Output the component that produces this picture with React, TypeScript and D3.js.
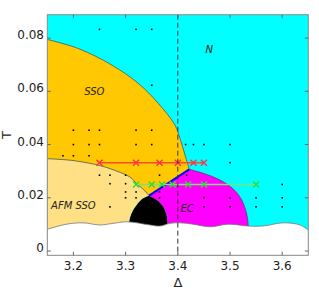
import * as d3 from 'd3';

type Pt = [number, number];

// phase boundaries, as [Delta, T]
const ssoBoundary: Pt[] = [
  [3.15, 0.0795], [3.2094, 0.0761], [3.2734, 0.0699], [3.3243, 0.063],
  [3.3626, 0.0555], [3.3947, 0.0473], [3.4042, 0.0423], [3.4138, 0.0361],
  [3.422, 0.0307],
];
const afmBoundary: Pt[] = [
  [3.15, 0.0347], [3.1992, 0.034], [3.251, 0.0321], [3.2835, 0.03],
  [3.3084, 0.0278], [3.3218, 0.0252], [3.3333, 0.0233], [3.345, 0.0208],
];
const blackLeft: Pt[] = [
  [3.345, 0.0208], [3.3339, 0.0198], [3.3213, 0.0173], [3.3117, 0.0142],
  [3.3071, 0.011], [3.306, 0.006],
];
const blackRight: Pt[] = [
  [3.345, 0.0208], [3.3596, 0.0192], [3.3711, 0.0169], [3.3774, 0.0142],
  [3.3799, 0.011], [3.381, 0.006],
];
const ecBoundary: Pt[] = [
  [3.422, 0.0307], [3.4489, 0.0292], [3.4808, 0.0267], [3.5063, 0.0233],
  [3.5224, 0.0192], [3.532, 0.0139], [3.535, 0.0094], [3.535, 0.006],
];
const blueLine: Pt[] = [[3.345, 0.0208], [3.422, 0.0307]];
const wave: Pt[] = [
  [3.15, 0.0082], [3.1872, 0.0101], [3.2184, 0.0106], [3.251, 0.0098],
  [3.2759, 0.0104], [3.3027, 0.011], [3.3467, 0.0098], [3.3659, 0.0094],
  [3.3851, 0.0104], [3.4042, 0.0106], [3.4291, 0.0101], [3.4617, 0.0091],
  [3.4962, 0.0101], [3.5345, 0.0094], [3.5632, 0.0094], [3.6015, 0.0106],
  [3.6341, 0.0098], [3.65, 0.0079],
];

// simulation points
const dots: Pt[] = [
  [3.25, 0.0833], [3.32, 0.0833], [3.35, 0.0833],
  [3.35, 0.0623],
  [3.2, 0.0454], [3.23, 0.0454], [3.25, 0.0454], [3.32, 0.0454], [3.35, 0.0454],
  [3.2, 0.04], [3.23, 0.04], [3.25, 0.04], [3.32, 0.04], [3.35, 0.04],
  [3.415, 0.04], [3.43, 0.04], [3.45, 0.04], [3.5, 0.04],
  [3.18, 0.0358], [3.2, 0.0358], [3.23, 0.0358],
  [3.5, 0.0332],
  [3.25, 0.0285], [3.27, 0.0285], [3.3, 0.0285], [3.365, 0.0285], [3.417, 0.0285],
  [3.27, 0.0253], [3.3, 0.0253], [3.6, 0.025],
  [3.3, 0.0222], [3.32, 0.0222], [3.365, 0.0222],
  [3.3, 0.02], [3.32, 0.02], [3.365, 0.02], [3.45, 0.02], [3.5, 0.02], [3.55, 0.02], [3.6, 0.02],
  [3.27, 0.0166], [3.45, 0.0166], [3.5, 0.0166], [3.55, 0.0166], [3.6, 0.0166],
];
const redDelta = [3.25, 3.32, 3.365, 3.4, 3.43, 3.45];
const redT = 0.0332;
const greenDelta = [3.32, 3.35, 3.37, 3.39, 3.42, 3.45, 3.55];
const greenT = 0.025;

const xTicks = [3.2, 3.3, 3.4, 3.5, 3.6];
const yTicks = [0, 0.02, 0.04, 0.06, 0.08];
const yTickLabels = ['0', '0.02', '0.04', '0.06', '0.08'];
const criticalDelta = 3.4;

const W = 319;
const H = 291;
const L = 47.3, R = 308.3, T = 14.7, B = 255.3;

export default function App() {
  const x = d3.scaleLinear().domain([3.15, 3.65]).range([L, R]);
  const y = d3.scaleLinear().domain([-0.0016, 0.0888]).range([B, T]);
  const bottom = -0.0016;

  const smooth = d3.line<Pt>().x((d) => x(d[0])).y((d) => y(d[1])).curve(d3.curveCatmullRom);
  const straight = d3.line<Pt>().x((d) => x(d[0])).y((d) => y(d[1]));

  // region outlines
  const ssoPath =
    smooth(ssoBoundary) + 'L' + straight(blueLine.slice().reverse())!.slice(1) +
    'L' + smooth(afmBoundary.slice().reverse())!.slice(1) + 'Z';
  const afmPath =
    smooth(afmBoundary) + 'L' + smooth(blackLeft)!.slice(1) +
    `L${x(3.306)},${y(bottom)}L${x(3.15)},${y(bottom)}Z`;
  const blackPath =
    smooth(blackLeft) + 'L' + smooth(blackRight.slice().reverse())!.slice(1) + 'Z';
  const ecPath =
    smooth(ecBoundary) + `L${x(3.381)},${y(0.006)}` +
    'L' + smooth(blackRight.slice().reverse())!.slice(1) +
    'L' + straight(blueLine)!.slice(1) + 'Z';
  const wavePath =
    smooth(wave) + `L${x(3.65)},${y(bottom)}L${x(3.15)},${y(bottom)}Z`;

  const cross = (cx: number, cy: number, s = 3) =>
    `M${cx - s},${cy - s}L${cx + s},${cy + s}M${cx - s},${cy + s}L${cx + s},${cy - s}`;

  const font = '"DejaVu Sans", sans-serif';

  return (
    <svg
      width={W}
      height={H}
      style={{ position: 'absolute', left: 0, top: 0, background: '#fff' }}
      fontFamily={font}
    >
      <defs>
        <clipPath id="plot">
          <rect x={L} y={T} width={R - L} height={B - T} />
        </clipPath>
      </defs>
      <g clipPath="url(#plot)">
        <rect x={L} y={T} width={R - L} height={B - T} fill="#00ffff" />
        <path d={ssoPath} fill="#ffc800" />
        <path d={afmPath} fill="#ffe084" />
        <path d={ecPath} fill="#ff00ff" />
        <path d={blackPath} fill="#000" />
        <path d={smooth(ssoBoundary)!} fill="none" stroke="#444" strokeWidth={0.7} />
        <path d={smooth(afmBoundary)!} fill="none" stroke="#444" strokeWidth={0.7} />
        <path d={smooth(ecBoundary)!} fill="none" stroke="#444" strokeWidth={0.7} />
        <path d={straight(blueLine)!} fill="none" stroke="#0000ff" strokeWidth={2} />
        <path d={wavePath} fill="#fff" />
        <path d={smooth(wave)!} fill="none" stroke="#777" strokeWidth={0.8} />

        {dots.map((d, i) => (
          <rect key={i} x={x(d[0]) - 0.8} y={y(d[1]) - 0.8} width={1.6} height={1.6} fill="#000" />
        ))}

        <line
          x1={x(redDelta[0])} x2={x(redDelta[redDelta.length - 1])}
          y1={y(redT)} y2={y(redT)} stroke="#ff4a2a" strokeWidth={1.5}
        />
        {redDelta.map((d, i) => (
          <path key={i} d={cross(x(d), y(redT))} stroke="#ff3050" strokeWidth={1.4} fill="none" />
        ))}
        <line
          x1={x(greenDelta[0])} x2={x(greenDelta[greenDelta.length - 1])}
          y1={y(greenT)} y2={y(greenT)} stroke="#7de07d" strokeWidth={1.5}
        />
        {greenDelta.map((d, i) => (
          <path key={i} d={cross(x(d), y(greenT))} stroke="#2edc2e" strokeWidth={1.4} fill="none" />
        ))}

        <line
          x1={x(criticalDelta)} x2={x(criticalDelta)} y1={T} y2={B}
          stroke="#333" strokeWidth={1} strokeDasharray="5,3"
        />
      </g>

      <text x={x(3.24)} y={y(0.0598)} fontSize={10} fontStyle="italic" textAnchor="middle" dominantBaseline="central" fill="#222">SSO</text>
      <text x={x(3.46)} y={y(0.0758)} fontSize={10} fontStyle="italic" textAnchor="middle" dominantBaseline="central" fill="#222">N</text>
      <text x={x(3.2)} y={y(0.0172)} fontSize={10} fontStyle="italic" textAnchor="middle" dominantBaseline="central" fill="#222">AFM SSO</text>
      <text x={x(3.418)} y={y(0.016)} fontSize={10} fontStyle="italic" textAnchor="middle" dominantBaseline="central" fill="#222">EC</text>

      <rect x={L} y={T} width={R - L} height={B - T} fill="none" stroke="#888" strokeWidth={1} />
      {xTicks.map((t) => (
        <g key={t}>
          <line x1={x(t)} x2={x(t)} y1={B} y2={B - 3.5} stroke="#666" />
          <line x1={x(t)} x2={x(t)} y1={T} y2={T + 3.5} stroke="#666" />
          <text x={x(t)} y={269.5} fontSize={12} textAnchor="middle" fill="#222">{t.toFixed(1)}</text>
        </g>
      ))}
      {yTicks.map((t, i) => (
        <g key={t}>
          <line x1={L} x2={L + 3.5} y1={y(t)} y2={y(t)} stroke="#666" />
          <line x1={R} x2={R - 3.5} y1={y(t)} y2={y(t)} stroke="#666" />
          <text x={44} y={y(t) + 1} fontSize={12} textAnchor="end" fill="#222">{yTickLabels[i]}</text>
        </g>
      ))}
      <text x={178} y={287} fontSize={13} textAnchor="middle" fill="#222">Δ</text>
      <text transform="translate(11,135) rotate(-90)" fontSize={13} textAnchor="middle" fill="#222">T</text>
    </svg>
  );
}
